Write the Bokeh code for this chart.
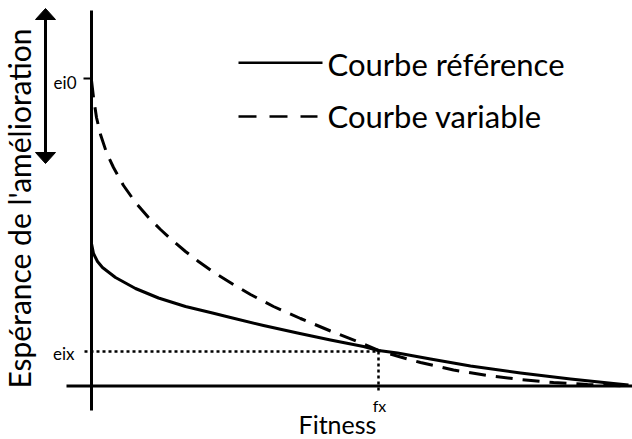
import math
from bokeh.plotting import figure
from bokeh.models import Range1d
from bokeh.core.properties import value
from bokeh.embed import file_html
from bokeh.resources import INLINE

# ---- data (diagram units: fitness along x, expected improvement along y) ----
fitness_ref = [0, 2, 6, 11, 24, 44, 67, 94, 121, 139, 172, 206, 239, 272,
               287, 306, 339, 379, 429, 479, 522, 537]
ei_ref = [142.5, 132.5, 124.5, 118.5, 108.5, 97.5, 88.0, 79.5, 73.0, 68.5,
          60.5, 53.0, 46.0, 39.5, 35.5, 33.0, 27.0, 20.0, 13.0, 7.0, 2.5, 1.0]

fitness_var = [0, 2, 5, 9, 15, 22, 32, 44, 57, 69, 81, 94, 107, 121, 142,
               159, 182, 209, 239, 266, 287, 309, 329, 362, 396, 429, 462,
               496, 537]
ei_var = [305.5, 288.5, 268.5, 251.5, 233.5, 218.5, 200.5, 183.5, 168.5,
          156.5, 145.5, 134.5, 124.5, 114.5, 101.5, 91.5, 79.5, 67.5, 55.0,
          44.5, 35.5, 29.0, 23.5, 16.0, 10.5, 6.5, 3.5, 1.5, 0]

ei0 = 307.5
eix = 34.5
fx = 287
fitness_end = 541
ei_top = 375.5

labels = {
    "y": "Espérance de l'amélioration",
    "x": "Fitness",
    "ref": "Courbe référence",
    "var": "Courbe variable",
    "ei0": "ei0",
    "eix": "eix",
    "fx": "fx",
}

FONT = value("Lato")

p = figure(width=632, height=439, output_backend="svg", toolbar_location=None,
           x_range=Range1d(-91, 541), y_range=Range1d(-53.5, 385.5),
           min_border=0)
p.axis.visible = False
p.grid.visible = False
p.outline_line_color = None
p.background_fill_color = "white"
p.border_fill_color = "white"

# axes lines
p.line([0, 0], [-24.5, ei_top], line_color="black", line_width=3)
p.line([-25, fitness_end], [0, 0], line_color="black", line_width=3)

# ei0 tick
p.line([-8, 0], [ei0, ei0], line_color="black", line_width=2)

# curves
p.line(fitness_ref, ei_ref, line_color="black", line_width=3, line_join="round")
p.line(fitness_var, ei_var, line_color="black", line_width=3, line_dash="17 10")

# dotted guides
p.line([-7, fx], [eix, eix], line_color="black", line_width=2.5, line_dash="3 3")
p.line([fx, fx], [eix, -6.5], line_color="black", line_width=2.5, line_dash="3 3")

# double arrow on the left
ax = -46
a_top, a_bot = 377.5, 222.5
head_len, head_w = 11, 20
p.line([ax, ax], [a_top - head_len, a_bot + head_len], line_color="black", line_width=3)
p.patch([ax - head_w / 2, ax + head_w / 2, ax], [a_top - head_len, a_top - head_len, a_top],
        fill_color="black", line_color="black")
p.patch([ax - head_w / 2, ax + head_w / 2, ax], [a_bot + head_len, a_bot + head_len, a_bot],
        fill_color="black", line_color="black")

# legend (drawn)
p.line([147, 231], [323.2, 323.2], line_color="black", line_width=2.5)
p.line([147, 226], [269.5, 269.5], line_color="black", line_width=2.5, line_dash="18 13")
p.text([236], [322.5], text=[labels["ref"]], text_font=FONT, text_font_size="31px",
       text_align="left", text_baseline="middle", text_color="black")
p.text([236], [270.5], text=[labels["var"]], text_font=FONT, text_font_size="31px",
       text_align="left", text_baseline="middle", text_color="black")

# small labels
p.text([-15], [304], text=[labels["ei0"]], text_font=FONT, text_font_size="17px",
       text_align="right", text_baseline="middle")
p.text([-17], [33], text=[labels["eix"]], text_font=FONT, text_font_size="17px",
       text_align="right", text_baseline="middle")
p.text([fx + 1], [-19.3], text=[labels["fx"]], text_font=FONT, text_font_size="16px",
       text_align="center", text_baseline="middle")
p.text([246], [-37.8], text=[labels["x"]], text_font=FONT, text_font_size="25px",
       text_align="center", text_baseline="middle")
p.text([-73], [177.5], text=[labels["y"]], text_font=FONT, text_font_size="30px",
       text_align="center", text_baseline="middle", angle=math.pi / 2)

open("out.html", "w").write(file_html(p, INLINE))
